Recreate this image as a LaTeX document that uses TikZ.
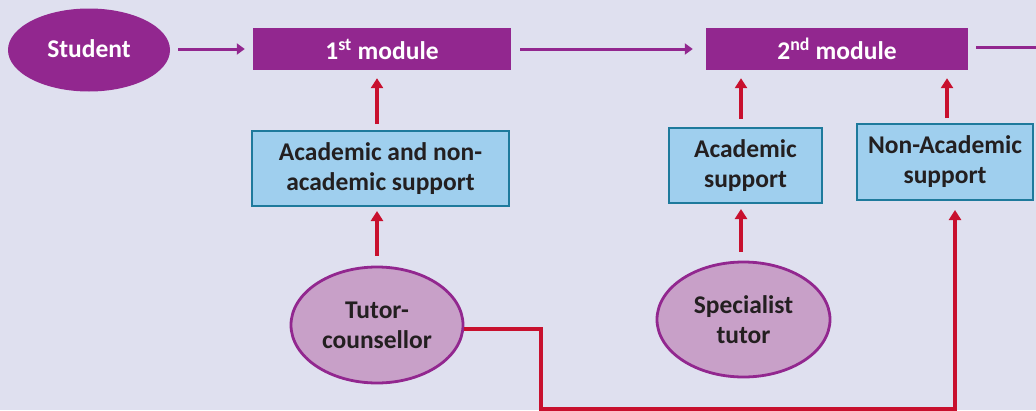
\documentclass[tikz,border=0pt]{standalone}
\usepackage{fontspec}
\setmainfont{Carlito}
\usetikzlibrary{arrows.meta,shapes.geometric}
\definecolor{bg}{HTML}{DFE0EF}
\definecolor{purp}{HTML}{92278F}
\definecolor{lpurp}{HTML}{C8A0C8}
\definecolor{lblue}{HTML}{9FCFEE}
\definecolor{tealb}{HTML}{1E7A9C}
\definecolor{redl}{HTML}{C8102E}
\definecolor{txt}{HTML}{231F20}
\tikzset{
  lbl/.style={font=\fontsize{25.5}{30}\selectfont\bfseries, align=center},
  modbox/.style={lbl, rectangle, fill=purp, text=white, inner sep=0pt},
  supbox/.style={lbl, rectangle, fill=lblue, draw=tealb, line width=2pt, text=txt, inner sep=0pt},
  stud/.style={lbl, ellipse, fill=purp, text=white, inner sep=0pt},
  tutell/.style={lbl, ellipse, fill=lpurp, draw=purp, line width=2.8pt, text=txt, inner sep=0pt},
  parr/.style={draw=purp, line width=3pt, -{Triangle[length=8pt,width=11pt]}},
  rarr/.style={draw=redl, line width=3.2pt, -{Triangle[length=10pt,width=12pt]}},
}
\begin{document}
\begin{tikzpicture}[x=1pt,y=-1pt]
\fill[bg] (0,0) rectangle (1036,410);
\useasboundingbox (0,0) rectangle (1036,410);

\node[stud, minimum width=162pt, minimum height=83pt] (student) at (89,50) {\raisebox{3pt}{Student}};
\node[modbox, minimum width=258pt, minimum height=42pt] (m1) at (382,49) {1\textsuperscript{st} module};
\node[modbox, minimum width=262pt, minimum height=42pt] (m2) at (837,49) {2\textsuperscript{nd} module};
\coordinate (out) at (1044,47);

\node[supbox, minimum width=257pt, minimum height=75pt] (s1) at (380.5,168.5) {Academic and non-\\academic support};
\node[supbox, minimum width=153pt, minimum height=75pt] (s2) at (745.5,165.5) {Academic\\support};
\node[supbox, minimum width=176pt, minimum height=76pt] (s3) at (945,162) {Non-Academic\\support};

\node[tutell, minimum width=172pt, minimum height=116pt] (tutor) at (377,325) {Tutor-\\counsellor};
\node[tutell, minimum width=173pt, minimum height=115pt] (spec) at (743.5,319.5) {Specialist\\tutor};

\coordinate (c1) at (541,409);

\draw[parr, shorten <=8pt, shorten >=8pt] (student.east |- m1) -- (m1.west);
\draw[parr, shorten <=9pt, shorten >=13pt] (m1.east) -- (m2.west);
\draw[parr, shorten <=8pt] (m2.east |- out) -- (out);

\draw[rarr] ([yshift=6pt]tutor.north |- s1.north) -- ([yshift=-8pt]tutor.north |- m1.south);
\draw[rarr] ([yshift=10pt]tutor.north) -- ([yshift=-4pt]tutor.north |- s1.south);

\draw[rarr] ([xshift=-2.5pt,yshift=8pt]spec.north |- s2.north) -- ([xshift=-2.5pt,yshift=-8pt]spec.north |- m2.south);
\draw[rarr] ([xshift=-2.5pt,yshift=9pt]spec.north) -- ([xshift=-2.5pt,yshift=-5pt]spec.north |- s2.south);

\draw[rarr] ([xshift=2pt,yshift=5pt]s3.north) -- ([xshift=2pt,yshift=-8pt]s3.north |- m2.south);
\draw[rarr] ([yshift=-4pt]tutor.east) -| (c1) -| ([xshift=10pt,yshift=-9pt]s3.south);
\end{tikzpicture}
\end{document}
